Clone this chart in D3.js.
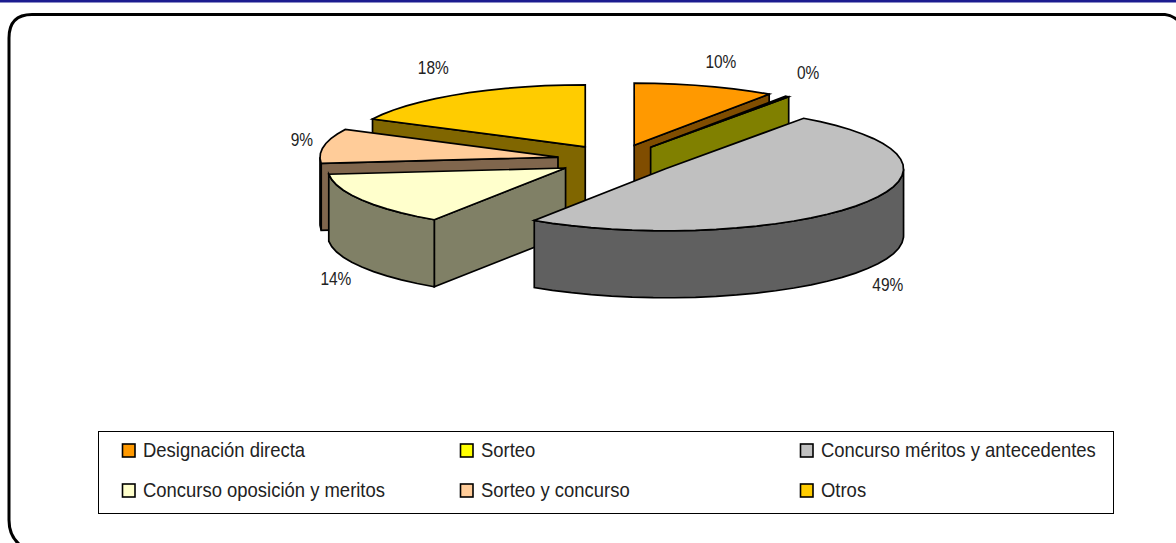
<!DOCTYPE html>
<html><head><meta charset="utf-8">
<script src="https://cdn.jsdelivr.net/npm/d3@7/dist/d3.min.js"></script>
<style>html,body{margin:0;padding:0;background:#fff;overflow:hidden}svg{display:block}</style>
</head><body><svg id="c" width="1176" height="543"></svg>
<script>
const categories = ["Designación directa","Sorteo","Concurso méritos y antecedentes","Concurso oposición y meritos","Sorteo y concurso","Otros"];
const values = [9.6,0.25,49.45,14.1,9.0,17.6];
const percentLabels = ["10%","0%","49%","14%","9%","18%"];
const colors = ["#ff9900","#ffff00","#c0c0c0","#ffffcc","#ffcc99","#ffcc00"];
const labelOffsets = [[16,-24],[21,-24],[26,81],[-26,79],[-22,-6],[-27,-26]];
const drawOrder = [5,0,1,4,3,2];

const cx=616.5, cy=160, rx=238, ry=62, depth=67, explode=0.25;
const svg=d3.select("#c");
const FONT='"Liberation Sans",Arial,sans-serif';

svg.append("rect").attr("x",0).attr("y",0).attr("width",1176).attr("height",2.5).attr("fill","#1c1c90");
svg.append("path").attr("fill","none").attr("stroke","#000").attr("stroke-width",3)
  .attr("d","M20 545Q9 536 9 520V38Q9 14.5 32 14.5H1165Q1172 15 1180 22");

const pie=d3.pie().sort(null).value(d=>d);
const arcs=pie(values);
const line=d3.line();
const px=(c,t)=>c[0]+rx*Math.sin(t);
const py=(c,t)=>c[1]-ry*Math.cos(t);
const wall=col=>d3.rgb(col.r/2,col.g/2,col.b/2);
const gP=svg.append("g").attr("stroke","#000").attr("stroke-width",1.7).attr("stroke-linejoin","miter");

drawOrder.forEach(i=>{
  const a=arcs[i], mid=(a.startAngle+a.endAngle)/2;
  const c=[cx+explode*rx*Math.sin(mid), cy-explode*ry*Math.cos(mid)];
  const n=Math.max(2,Math.ceil((a.endAngle-a.startAngle)/0.09));
  const ts=d3.range(n+1).map(k=>a.startAngle+(a.endAngle-a.startAngle)*k/n);
  const rim=ts.map(t=>[px(c,t),py(c,t)]);
  const wc=wall(d3.rgb(colors[i]));
  const down=p=>[p[0],p[1]+depth];
  // radial walls: only those whose outward normal faces the viewer
  if(Math.cos(a.startAngle-Math.PI/2)<-1e-6){
    const p=rim[0];
    gP.append("path").attr("fill",wc).attr("d",line([c,p,down(p),down(c)])+"Z");
  }
  if(Math.cos(a.endAngle+Math.PI/2)<-1e-6){
    const p=rim[rim.length-1];
    gP.append("path").attr("fill",wc).attr("d",line([c,p,down(p),down(c)])+"Z");
  }
  // outer wall on the front half of the rim
  const lo=Math.max(a.startAngle,Math.PI/2), hi=Math.min(a.endAngle,3*Math.PI/2);
  if(hi>lo){
    const fts=[lo].concat(ts.filter(t=>t>lo&&t<hi),[hi]);
    const r=fts.map(t=>[px(c,t),py(c,t)]);
    gP.append("path").attr("fill",wc).attr("d",line(r.concat(r.slice().reverse().map(down)))+"Z");
  }
  gP.append("path").attr("fill",colors[i]).attr("d",line([c].concat(rim))+"Z");
  const m=[px(c,mid)+labelOffsets[i][0],py(c,mid)+labelOffsets[i][1]];
  svg.append("text").attr("x",0).attr("y",0).attr("text-anchor","middle")
    .attr("font-family",FONT).attr("font-size",18).attr("fill","#222")
    .attr("transform",`translate(${m[0]},${m[1]+6}) scale(0.86,1)`).text(percentLabels[i]);
});

// Legend
svg.append("rect").attr("x",98.5).attr("y",431.5).attr("width",1015).attr("height",82).attr("fill","none").attr("stroke","#000").attr("stroke-width",1);
const col=d3.scaleOrdinal().domain([0,1,2]).range([122,460,800]);
const row=d3.scaleOrdinal().domain([0,1]).range([450,490]);
const lg=svg.append("g").selectAll("g").data(categories).join("g")
  .attr("transform",(d,i)=>`translate(${col(i%3)},${row(Math.floor(i/3))})`);
lg.append("rect").attr("x",0.5).attr("y",-6).attr("width",12.5).attr("height",13).attr("fill",(d,i)=>colors[i]).attr("stroke","#000").attr("stroke-width",1.6);
lg.append("text").attr("x",0).attr("y",0).attr("font-family",FONT).attr("font-size",20.5).attr("fill","#222")
  .attr("transform","translate(21,7) scale(0.9,1)").text(d=>d);
</script></body></html>
